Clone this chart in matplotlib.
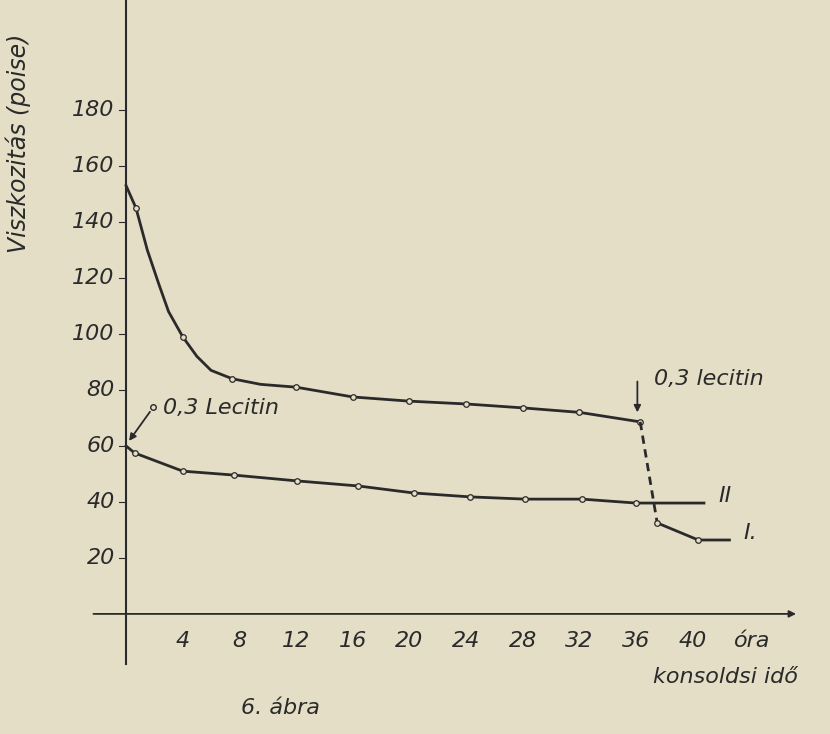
import numpy as np
import matplotlib.pyplot as plt

# curve I (upper) and curve II (lower)
x1 = [0, 0.7, 4, 7.5, 12, 16, 20, 24, 28, 32, 36.3]
y1 = [153, 145, 99, 84, 81, 77.5, 76, 75, 73.6, 72, 68.6]
# extra points read along the drawn curve between the circles (no circle drawn there)
x1_shape = [0, 0.7, 1.5, 2.3, 3.0, 4, 5.0, 6.0, 7.5, 9.5, 12]
y1_shape = [153, 145, 130, 118, 108, 99, 92, 87, 84, 82, 81]
x1_after = [37.5, 40.4]
y1_after = [32.5, 26.4]
x2 = [0, 0.6, 4, 7.6, 12.1, 16.4, 20.3, 24.3, 28.2, 32.2, 36]
y2 = [60, 57.5, 51, 49.6, 47.5, 45.7, 43.2, 41.8, 41, 41, 39.6]
xticks = [4, 8, 12, 16, 20, 24, 28, 32, 36, 40]
yticks = [20, 40, 60, 80, 100, 120, 140, 160, 180]

bg = '#e4dec7'
ink = '#2a2a2a'
fig = plt.figure(figsize=(8.3, 7.34), dpi=100, facecolor=bg)
ax = fig.add_axes([0, 0, 1, 1])
ax.set_facecolor(bg)
ax.set_xlim(-8.9, 49.7)
ax.set_ylim(-42.9, 219.3)
ax.axis('off')

# axes drawn by hand, like the original
ax.plot([0, 0], [-18, 219.3], color=ink, lw=1.5)
ax.annotate('', xy=(47.5, 0), xytext=(-2.5, 0), arrowprops=dict(arrowstyle='-|>', color=ink, lw=1.3))
fs = 16
for t in xticks:
    ax.text(t, -6, str(t), ha='center', va='top', fontsize=fs, style='italic', color=ink)
ax.text(44.2, -6, 'óra', ha='center', va='top', fontsize=fs, style='italic', color=ink)
ax.text(42.3, -19, 'konsoldsi idő', ha='center', va='top', fontsize=fs, style='italic', color=ink)
ax.text(10.9, -30, '6. ábra', ha='center', va='top', fontsize=fs, style='italic', color=ink)
for t in yticks:
    ax.text(-0.8, t, str(t), ha='right', va='center', fontsize=fs, style='italic', color=ink)
    ax.plot([-0.5, 0], [t, t], color=ink, lw=0.8)
ax.text(-7.6, 168, 'Viszkozitás (poise)', rotation=90, ha='center', va='center',
        fontsize=17, style='italic', color=ink)

# curves
ax.plot(x1_shape + x1[-6:], y1_shape + y1[-6:], color=ink, lw=2)
ax.plot(x1[1:], y1[1:], 'o', ms=4, mfc=bg, mec=ink, mew=0.9)
ax.plot([x1[-1]] + x1_after[:1], [y1[-1]] + y1_after[:1], color=ink, lw=2, ls=(0, (3, 2)))
ax.plot(x1_after + [42.6], y1_after + [26.4], color=ink, lw=2)
ax.plot(x1_after, y1_after, 'o', ms=4, mfc=bg, mec=ink, mew=0.9)
ax.plot(x2 + [40.8], y2 + [39.6], color=ink, lw=2)
ax.plot(x2[1:], y2[1:], 'o', ms=4, mfc=bg, mec=ink, mew=0.9)

# annotations
ax.annotate('', xy=(0.1, 61), xytext=(1.8, 73), arrowprops=dict(arrowstyle='-|>', color=ink, lw=1.3))
ax.plot([1.9], [74], 'o', ms=4, mfc=bg, mec=ink)
ax.text(2.6, 73.5, '0,3 Lecitin', fontsize=fs, style='italic', color=ink, va='center')
ax.annotate('', xy=(36.1, 71), xytext=(36.1, 84), arrowprops=dict(arrowstyle='-|>', color=ink, lw=1.3))
ax.text(37.3, 84, '0,3 lecitin', fontsize=fs, style='italic', color=ink, va='center')
ax.text(41.8, 42, 'II', fontsize=fs, style='italic', color=ink, va='center')
ax.text(43.6, 29, 'I.', fontsize=fs, style='italic', color=ink, va='center')

fig.savefig('out.png', dpi=100, facecolor=bg)
